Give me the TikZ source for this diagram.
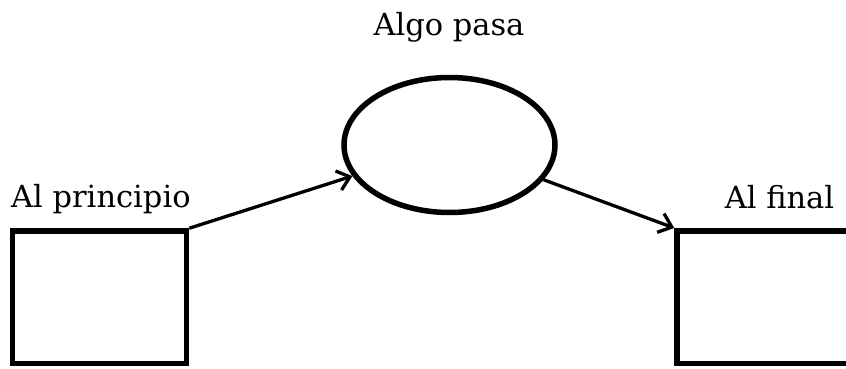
\documentclass[tikz,border=0pt]{standalone}
\usepackage{fontspec}
\setmainfont{DejaVu Serif}
\usetikzlibrary{shapes.geometric,arrows.meta}
\begin{document}
\begin{tikzpicture}[x=1pt,y=1pt,
  thickbox/.style={draw,line width=5.5pt,minimum width=174pt,minimum height=132.5pt,inner sep=0pt,line join=miter},
  thickell/.style={draw,ellipse,line width=5.5pt,minimum width=211pt,minimum height=135pt,inner sep=0pt},
  lbl/.style={font=\fontsize{30.5}{36}\selectfont,inner sep=0pt,anchor=base},
  conn/.style={line width=3.3pt,-{Straight Barb[length=12pt,width=20pt,line width=3.3pt]}}]
\useasboundingbox (0,0) rectangle (846,368);
\node[thickbox] (lbox) at (99.5,70.75) {};
\node[thickbox] (rbox) at (764,71) {};
\node[thickell] (ell) at (449.5,223) {};
\node[lbl] (t1) at (449,333) {Algo pasa};
\node[lbl,anchor=base west] (t2) at (11,161) {Al principio};
\node[lbl] (t3) at (779.5,160) {Al final};
\draw[conn] (lbox.north east) -- (ell);
\draw[conn] (ell) -- (rbox.north west);
\end{tikzpicture}
\end{document}
